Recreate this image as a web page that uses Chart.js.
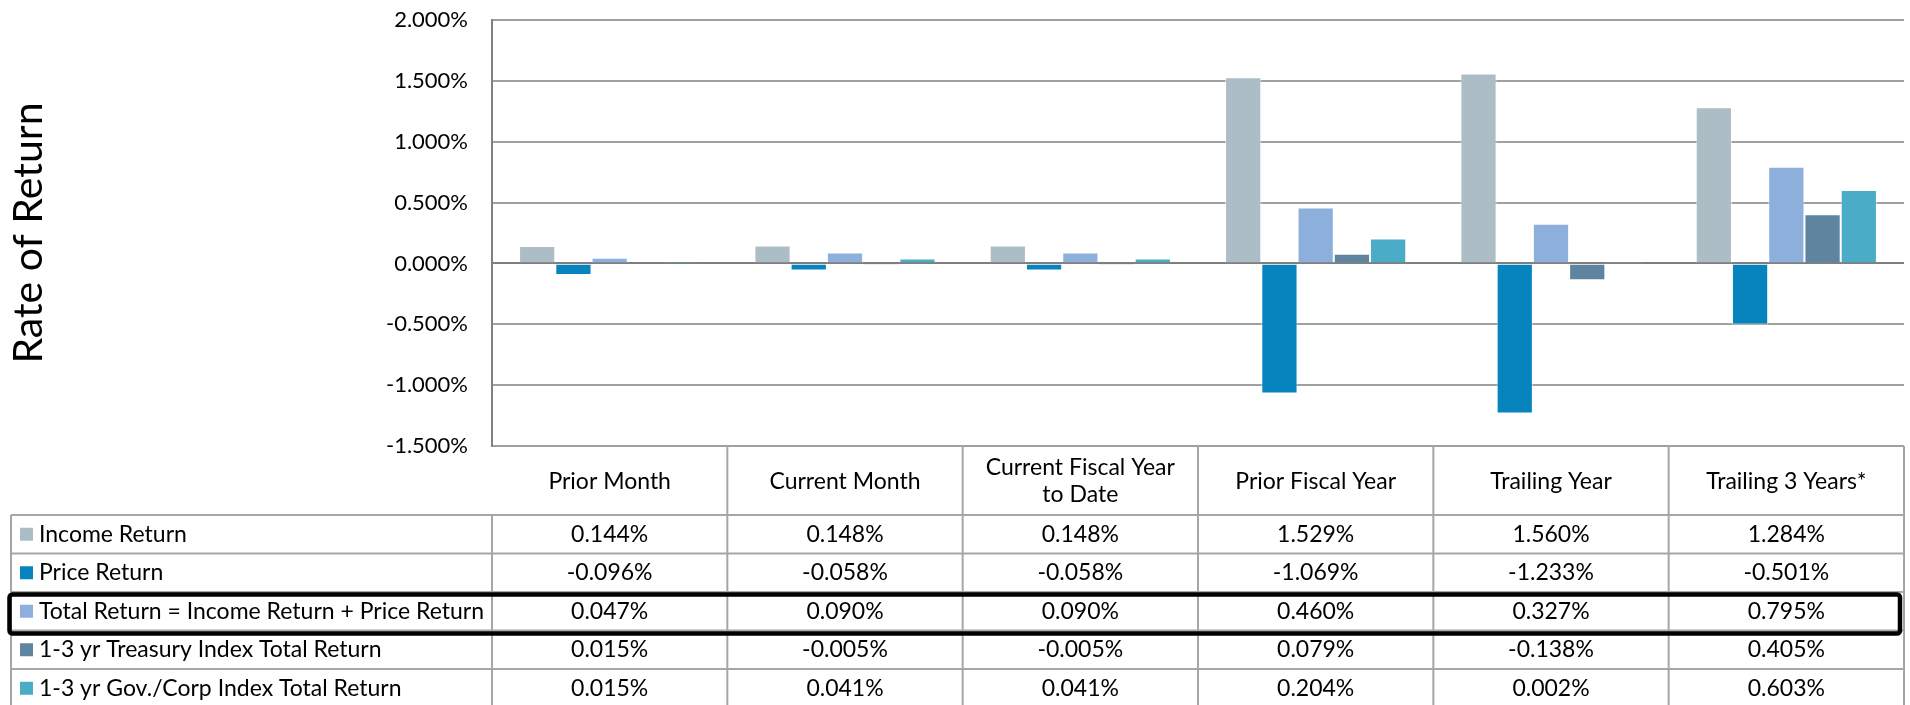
<!DOCTYPE html>
<html><head><meta charset="utf-8">
<script src="https://cdn.jsdelivr.net/npm/chart.js@4/dist/chart.umd.min.js"></script>
<style>html,body{margin:0;padding:0;background:#fff;overflow:hidden}</style>
</head><body>
<canvas id="c" width="1910" height="705"></canvas>
<script>
// ---- data ----
const categories = [['Prior Month'], ['Current Month'], ['Current Fiscal Year', 'to Date'], ['Prior Fiscal Year'], ['Trailing Year'], ['Trailing 3 Years*']];
const seriesNames = ['Income Return', 'Price Return', 'Total Return = Income Return + Price Return', '1-3 yr Treasury Index Total Return', '1-3 yr Gov./Corp Index Total Return'];
const incomeReturn = [0.144, 0.148, 0.148, 1.529, 1.560, 1.284];
const priceReturn = [-0.096, -0.058, -0.058, -1.069, -1.233, -0.501];
const totalReturn = [0.047, 0.090, 0.090, 0.460, 0.327, 0.795];
const treasuryReturn = [0.015, -0.005, -0.005, 0.079, -0.138, 0.405];
const govCorpReturn = [0.015, 0.041, 0.041, 0.204, 0.002, 0.603];
const yMin = -1.5, yMax = 2.0, yStep = 0.5;
const yTitle = 'Rate of Return';
const highlightRow = 2;

// ---- styles ----
const colors = ['#adbdc6', '#0784be', '#8cafdc', '#5e849f', '#4aacc6'];
const FONT = 'Lato';
const seriesData = [incomeReturn, priceReturn, totalReturn, treasuryReturn, govCorpReturn];
const fmt = v => v.toFixed(3) + '%';

const tablePlugin = {
  id: 'dataTable',
  afterDraw(chart) {
    const {ctx, chartArea: ca, scales: {x}} = chart;
    const n = categories.length;
    const colW = (ca.right - ca.left) / n;
    const top = ca.bottom;
    const headerBottom = top + 69;
    const rowH = 38.5;
    const tableLeft = 11;
    const rows = seriesNames.length;
    const tableBottom = headerBottom + rows * rowH;
    ctx.save();
    ctx.strokeStyle = '#a6a6a6';
    ctx.lineWidth = 2;
    for (let i = 0; i <= n; i++) {
      const xx = ca.left + i * colW;
      ctx.beginPath();
      ctx.moveTo(xx, i === 0 ? headerBottom : top);
      ctx.lineTo(xx, tableBottom);
      ctx.stroke();
    }
    ctx.beginPath(); ctx.moveTo(tableLeft, headerBottom); ctx.lineTo(tableLeft, tableBottom); ctx.stroke();
    for (let r = 0; r <= rows; r++) {
      const yy = headerBottom + r * rowH;
      ctx.beginPath(); ctx.moveTo(tableLeft, yy); ctx.lineTo(ca.right, yy); ctx.stroke();
    }
    ctx.fillStyle = '#000';
    ctx.font = '23px ' + FONT;
    ctx.textAlign = 'center';
    ctx.textBaseline = 'middle';
    const hc = (top + headerBottom) / 2 + 1;
    categories.forEach((lines, i) => {
      const cx = x.getPixelForValue(i);
      const lh = 27;
      const y0 = hc - (lines.length - 1) * lh / 2;
      lines.forEach((t, k) => ctx.fillText(t, cx, y0 + k * lh));
    });
    seriesNames.forEach((name, r) => {
      const cy = headerBottom + r * rowH + rowH / 2;
      ctx.fillStyle = colors[r];
      ctx.fillRect(20, cy - 6.5, 13, 13);
      ctx.fillStyle = '#000';
      ctx.textAlign = 'left';
      ctx.fillText(name, 39, cy);
      ctx.textAlign = 'center';
      seriesData[r].forEach((v, i) => ctx.fillText(fmt(v), x.getPixelForValue(i), cy));
    });
    const by = headerBottom + highlightRow * rowH;
    ctx.strokeStyle = '#000';
    ctx.lineWidth = 4.5;
    ctx.lineJoin = 'round';
    ctx.beginPath();
    if (ctx.roundRect) ctx.roundRect(9.5, by + 2.5, ca.right - 4 - 9.5, rowH + 0.5, 3);
    else ctx.rect(9.5, by + 2.5, ca.right - 4 - 9.5, rowH + 0.5);
    ctx.stroke();
    ctx.restore();
  }
};

new Chart(document.getElementById('c'), {
  type: 'bar',
  data: {
    labels: categories,
    datasets: seriesNames.map((name, i) => ({
      label: name,
      data: seriesData[i],
      backgroundColor: colors[i],
      borderColor: 'rgba(255,255,255,0.55)',
      borderWidth: 1,
      categoryPercentage: 0.77,
      barPercentage: 1.0
    }))
  },
  options: {
    responsive: false,
    devicePixelRatio: 1,
    animation: false,
    layout: {padding: {top: 20, bottom: 259, right: 6, left: 0}},
    plugins: {legend: {display: false}, tooltip: {enabled: false}},
    scales: {
      x: {display: false, offset: true},
      y: {
        min: yMin, max: yMax,
        afterFit(scale) { scale.width = 492; },
        ticks: {
          stepSize: yStep,
          color: '#000',
          font: {family: FONT, size: 22},
          padding: 2,
          callback: v => fmt(v)
        },
        grid: {
          drawTicks: true,
          tickLength: 22,
          tickColor: 'rgba(0,0,0,0)',
          lineWidth: 2,
          color: c => (c.tick && c.tick.value === 0) ? '#7f7f7f' : '#a0a0a0'
        },
        border: {display: true, color: '#808080', width: 2},
        title: {
          display: true,
          text: yTitle,
          color: '#000',
          font: {family: FONT, size: 41, weight: 'normal'},
          padding: {top: 4, bottom: 0}
        }
      }
    }
  },
  plugins: [tablePlugin]
});
</script>
</body></html>
